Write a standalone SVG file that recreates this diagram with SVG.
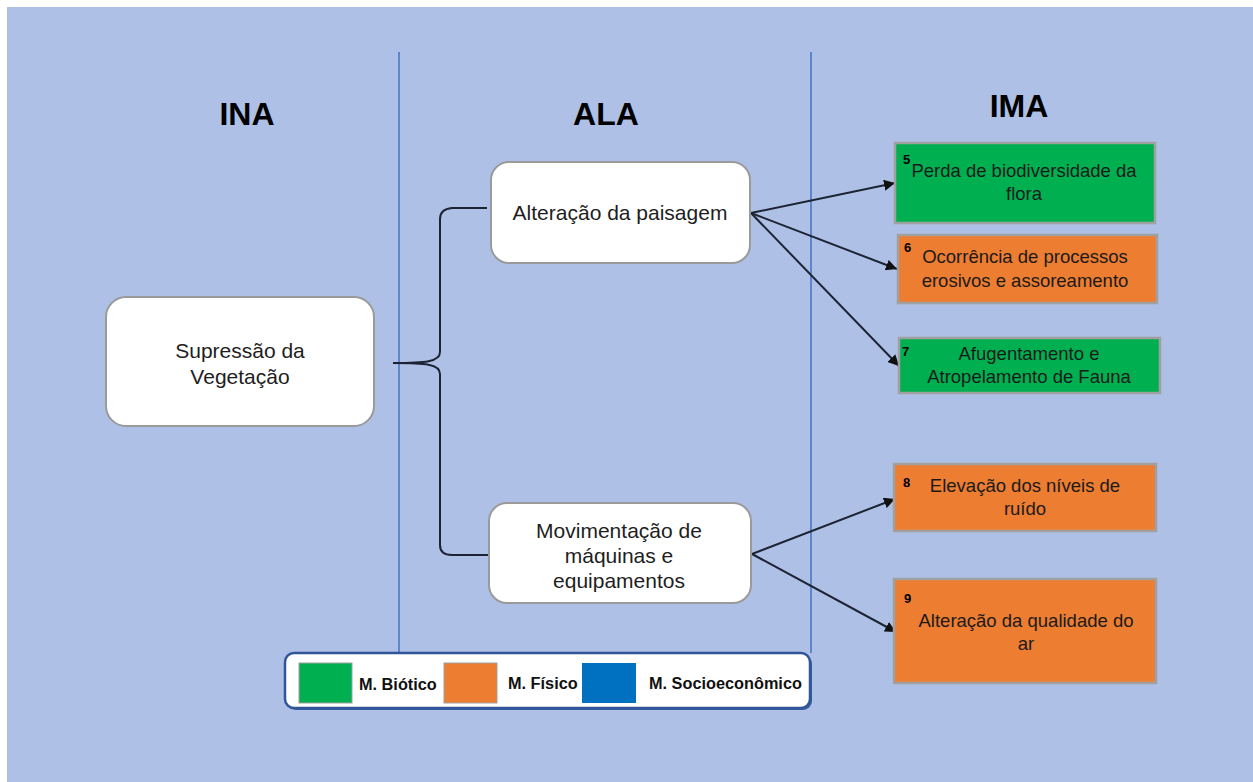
<svg xmlns="http://www.w3.org/2000/svg" width="1253" height="782" viewBox="0 0 1253 782">
<defs>
<style>
.bg{fill:#aec0e6}
.sep{stroke:#4472c4;stroke-width:1.5}
.title{font-family:"Liberation Sans",Arial,sans-serif;font-weight:bold;font-size:32px;fill:#000;text-anchor:middle}
.wbox{fill:#fff;stroke:#9a9a9a;stroke-width:2}
.wtxt{font-family:"Liberation Sans",Arial,sans-serif;font-size:21px;fill:#1e1e1e;text-anchor:middle}
.green{fill:#00b050;stroke:#a0a0a0;stroke-width:2.5}
.orange{fill:#ed7d31;stroke:#a0a0a0;stroke-width:2.5}
.itxt{font-family:"Liberation Sans",Arial,sans-serif;font-size:18.5px;fill:#1a1a1a;text-anchor:middle}
.num{font-family:"Liberation Sans",Arial,sans-serif;font-weight:bold;font-size:13px;fill:#000}
.conn{fill:none;stroke:#1c2433;stroke-width:2}
.leg{font-family:"Liberation Sans",Arial,sans-serif;font-weight:bold;font-size:16.3px;fill:#111}
</style>
<marker id="ah" viewBox="0 0 10 10" refX="10" refY="5" markerWidth="11" markerHeight="11" markerUnits="userSpaceOnUse" orient="auto">
<path d="M0,0 L10,5 L0,10 z" fill="#111"/>
</marker>
</defs>
<rect x="0" y="0" width="1253" height="782" fill="#fff"/>
<rect class="bg" x="7" y="7" width="1246" height="775"/>

<g id="separators">
<line class="sep" x1="399" y1="52" x2="399" y2="653"/>
<line class="sep" x1="811" y1="52" x2="811" y2="653"/>
</g>

<g id="titles">
<text class="title" x="247" y="125">INA</text>
<text class="title" x="606" y="125">ALA</text>
<text class="title" x="1019" y="117">IMA</text>
</g>

<g id="connectors">
<path class="conn" d="M393,363 C425,363 440,362 440,352 V219 Q440,209 452,208 H487"/>
<path class="conn" d="M393,363 C425,363 440,364 440,374 V545 Q440,555 452,555 H489"/>
<line class="conn" x1="751" y1="213" x2="895" y2="183" marker-end="url(#ah)"/>
<line class="conn" x1="751" y1="213" x2="897" y2="269" marker-end="url(#ah)"/>
<line class="conn" x1="751" y1="213" x2="899" y2="366" marker-end="url(#ah)"/>
<line class="conn" x1="752" y1="554" x2="895" y2="499" marker-end="url(#ah)"/>
<line class="conn" x1="752" y1="554" x2="896" y2="632" marker-end="url(#ah)"/>
</g>

<g id="node-supressao">
<rect class="wbox" x="106" y="297" width="268" height="129" rx="20"/>
<text class="wtxt" x="240" y="358">Supressão da</text>
<text class="wtxt" x="240" y="384">Vegetação</text>
</g>

<g id="node-alteracao">
<rect class="wbox" x="491" y="162" width="259" height="101" rx="18"/>
<text class="wtxt" x="620" y="220">Alteração da paisagem</text>
</g>

<g id="node-movimentacao">
<rect class="wbox" x="489" y="503" width="262" height="100" rx="18"/>
<text class="wtxt" x="619" y="538">Movimentação de</text>
<text class="wtxt" x="619" y="563">máquinas e</text>
<text class="wtxt" x="619" y="588">equipamentos</text>
</g>

<g id="node-5">
<rect class="green" x="895" y="143" width="260" height="80"/>
<text class="num" x="903" y="164">5</text>
<text class="itxt" x="1024" y="177">Perda de biodiversidade da</text>
<text class="itxt" x="1024" y="200">flora</text>
</g>

<g id="node-6">
<rect class="orange" x="898" y="235" width="259" height="68"/>
<text class="num" x="904" y="252">6</text>
<text class="itxt" x="1025" y="263">Ocorrência de processos</text>
<text class="itxt" x="1025" y="287">erosivos e assoreamento</text>
</g>

<g id="node-7">
<rect class="green" x="899" y="338" width="261" height="55"/>
<text class="num" x="902" y="356">7</text>
<text class="itxt" x="1029" y="360">Afugentamento e</text>
<text class="itxt" x="1029" y="383">Atropelamento de Fauna</text>
</g>

<g id="node-8">
<rect class="orange" x="894" y="464" width="262" height="67"/>
<text class="num" x="903" y="487">8</text>
<text class="itxt" x="1025" y="492">Elevação dos níveis de</text>
<text class="itxt" x="1025" y="515">ruído</text>
</g>

<g id="node-9">
<rect class="orange" x="894" y="579" width="262" height="104"/>
<text class="num" x="904" y="603">9</text>
<text class="itxt" x="1026" y="627">Alteração da qualidade do</text>
<text class="itxt" x="1026" y="650">ar</text>
</g>

<g id="legend">
<rect x="287" y="655" width="525" height="55" rx="9" fill="#3b5da0"/>
<rect x="285" y="653" width="525" height="55" rx="9" fill="#fff" stroke="#2f5597" stroke-width="2.5"/>
<rect x="299" y="663" width="53" height="40" fill="#00b050" stroke="#a0a0a0" stroke-width="1"/>
<text class="leg" x="359" y="690">M. Biótico</text>
<rect x="444" y="663" width="53" height="40" fill="#ed7d31" stroke="#a0a0a0" stroke-width="1"/>
<text class="leg" x="508" y="689">M. Físico</text>
<rect x="582" y="663" width="54" height="40" fill="#0070c0"/>
<text class="leg" x="649" y="689">M. Socioeconômico</text>
</g>
</svg>
